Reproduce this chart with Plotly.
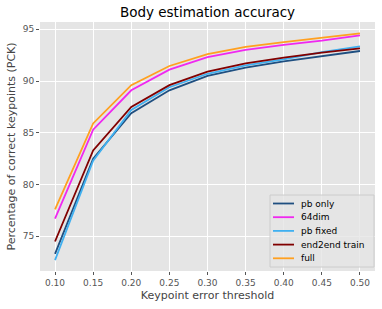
import plotly.graph_objects as go

thresholds = [0.10, 0.15, 0.20, 0.25, 0.30, 0.35, 0.40, 0.45, 0.50]
pb_only = [73.3, 82.5, 86.9, 89.1, 90.5, 91.3, 91.9, 92.4, 92.9]
dim64 = [76.7, 85.3, 89.1, 91.1, 92.3, 93.0, 93.5, 93.9, 94.4]
pb_fixed = [72.7, 82.3, 87.2, 89.4, 90.7, 91.5, 92.1, 92.8, 93.35]
end2end = [74.5, 83.3, 87.5, 89.6, 90.9, 91.7, 92.25, 92.75, 93.15]
full = [77.6, 85.9, 89.6, 91.45, 92.6, 93.3, 93.75, 94.2, 94.6]

names = ["pb only", "64dim", "pb fixed", "end2end train", "full"]
values = [pb_only, dim64, pb_fixed, end2end, full]
colors = ["#1f4f80", "#f028f0", "#40b0f0", "#800000", "#ffa020"]

W, H = 382, 309
L, R, T, B = 40, 375, 22, 271  # plot area in pixels
pw, ph = R - L, B - T

def px(x):
    return (x - L) / pw

def py(y):
    return (B - y) / ph

fig = go.Figure()
for name, vals, color in zip(names, values, colors):
    fig.add_trace(go.Scatter(x=thresholds, y=vals, mode="lines", name=name,
                             line=dict(color=color, width=1.8), showlegend=False))

font = "DejaVu Sans"

# manual legend (matplotlib-like compact layout)
shapes = [dict(type="rect", xref="paper", yref="paper",
               x0=px(270), x1=px(374), y0=py(267), y1=py(195),
               fillcolor="rgba(229,229,229,0.8)", line=dict(color="#CCCCCC", width=1),
               layer="above")]
annotations = []
for i, (name, color) in enumerate(zip(names, colors)):
    yy = 203.5 + i * 13.7
    shapes.append(dict(type="line", xref="paper", yref="paper",
                       x0=px(273), x1=px(294), y0=py(yy), y1=py(yy),
                       line=dict(color=color, width=1.8), layer="above"))
    annotations.append(dict(xref="paper", yref="paper", x=px(299), y=py(yy),
                            text=name, showarrow=False, xanchor="left", yanchor="middle",
                            font=dict(family=font, size=9, color="black")))

fig.update_layout(
    width=W, height=H,
    margin=dict(l=L, r=W - R, t=T, b=H - B, autoexpand=False),
    paper_bgcolor="white",
    plot_bgcolor="#E5E5E5",
    font=dict(family=font, size=10, color="#555555"),
    title=dict(text="Body estimation accuracy", x=(L + R) / 2 / W, xanchor="center",
               y=1 - 12 / H, yanchor="middle", automargin=False,
               font=dict(family=font, size=13.5, color="black")),
    xaxis=dict(range=[0.0803, 0.5197], tickvals=thresholds,
               ticktext=[f"{t:.2f}" for t in thresholds], automargin=False,
               showgrid=True, gridcolor="white", gridwidth=1, zeroline=False,
               ticks="outside", ticklen=3, tickcolor="#555555",
               tickfont=dict(size=9, color="#555555"),
               title=dict(text="Keypoint error threshold", standoff=4,
                          font=dict(size=11, color="#444444"))),
    yaxis=dict(range=[71.65, 95.7], tickvals=[75, 80, 85, 90, 95], automargin=False,
               showgrid=True, gridcolor="white", gridwidth=1, zeroline=False,
               ticks="outside", ticklen=3, tickcolor="#555555",
               tickfont=dict(size=9, color="#555555"),
               title=dict(text="Percentage of correct keypoints (PCK)", standoff=4,
                          font=dict(size=11, color="#444444"))),
    shapes=shapes,
    annotations=annotations,
    showlegend=False,
)

fig.write_html("out.html", config={"displayModeBar": False},
               post_script="document.body.style.margin='0px';")
